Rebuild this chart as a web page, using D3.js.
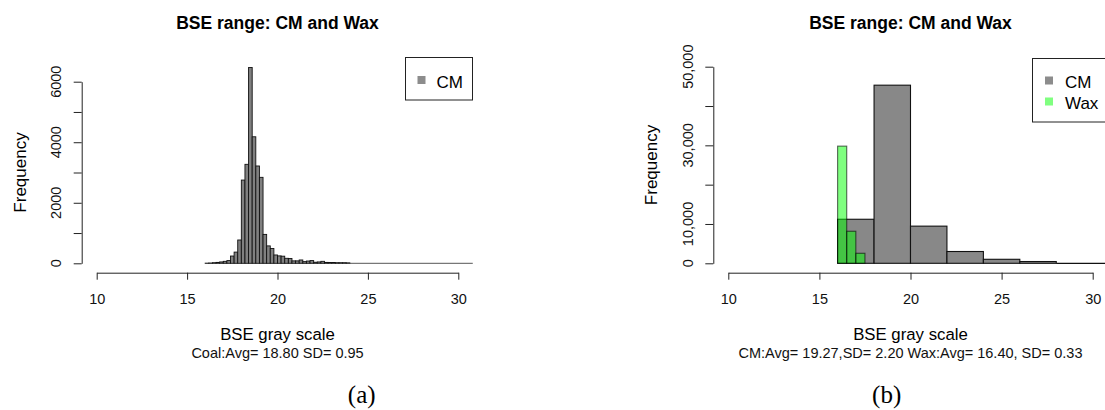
<!DOCTYPE html>
<html><head><meta charset="utf-8">
<script src="https://cdn.jsdelivr.net/npm/d3@7"></script>
<style>
html,body{margin:0;padding:0;background:#fff;}
svg{display:block;font-family:"Liberation Sans",Arial,sans-serif;}
</style></head>
<body>
<svg id="c" width="1105" height="410"></svg>
<script>
// ---------- data ----------
const title = "BSE range: CM and Wax";
const xLabel = "BSE gray scale";
const yLabel = "Frequency";
const xTicks = [10, 15, 20, 25, 30];

// panel (a): CM histogram, bins of 0.2 starting at 16.0
const aBinStart = 16.0;
const aBinWidth = 0.2;
const aCounts = [5, 10, 20, 30, 45, 65, 90, 240, 370, 770,
                 2750, 3270, 6470, 4180, 3215, 2840, 955, 575, 490, 275,
                 245, 235, 165, 160, 80, 80, 110, 55, 75, 90,
                 35, 45, 65, 30, 25, 25, 20, 20, 20, 15];
const aEmptyUntil = 30.8;
const aYTicks = [0, 1000, 2000, 3000, 4000, 5000, 6000];
const aYLabels = [0, 2000, 4000, 6000];
const aSub = "Coal:Avg= 18.80 SD= 0.95";
const aLegend = ["CM"];
const aTag = "(a)";

// panel (b): CM (bins of 2) and Wax (bins of 0.5)
const bCmStart = 16, bCmWidth = 2;
const bCmCounts = [11200, 45300, 9450, 3000, 1020, 450];
const bWaxStart = 16, bWaxWidth = 0.5;
const bWaxCounts = [29800, 8150, 2550];
const bEmptyUntil = 32;
const bYTicks = [0, 10000, 20000, 30000, 40000, 50000];
const bYLabels = [0, 10000, 30000, 50000];
const bSub = "CM:Avg= 19.27,SD= 2.20 Wax:Avg= 16.40, SD= 0.33";
const bLegend = ["CM", "Wax"];
const bTag = "(b)";

// ---------- drawing ----------
const svg = d3.select("#c");
const fmtComma = d3.format(",");

function panel(o) {
  const g = svg.append("g");
  const x = d3.scaleLinear().domain([10, 30]).range(o.xr);
  const y = d3.scaleLinear().domain(o.yd).range(o.yr);
  const cx = (o.xr[0] + o.xr[1]) / 2;

  // title
  g.append("text").attr("x", cx).attr("y", 28.5).attr("text-anchor", "middle")
    .attr("font-weight", "bold").attr("font-size", 17.5).attr("fill", "#000").text(title);

  // x axis (R style)
  const xa = g.append("g").attr("transform", `translate(0,${o.xAxisY})`)
    .call(d3.axisBottom(x).tickValues(xTicks).tickSize(7).tickPadding(14).tickSizeOuter(0));
  xa.select(".domain").attr("stroke", "#222");
  xa.selectAll(".tick line").attr("stroke", "#222");
  xa.selectAll("text").attr("font-size", 14.5).attr("fill", "#111")
    .attr("font-family", "Liberation Sans, Arial, sans-serif");

  // y axis
  const ya = g.append("g").attr("transform", `translate(${o.yAxisX},0)`)
    .call(d3.axisLeft(y).tickValues(o.yTicks).tickSize(8).tickFormat("").tickSizeOuter(0));
  ya.select(".domain").attr("stroke", "#222");
  ya.selectAll(".tick line").attr("stroke", "#222");
  g.selectAll(".ylab").data(o.yLabels).join("text")
    .attr("transform", d => `translate(${o.yLabX},${y(d)}) rotate(-90)`)
    .attr("text-anchor", "middle").attr("font-size", 14.5).attr("fill", "#111")
    .text(d => o.comma ? fmtComma(d) : d);

  // axis titles
  g.append("text").attr("transform", `translate(${o.yTitleX},${(o.yr[0] + o.yr[1]) / 2}) rotate(-90)`)
    .attr("text-anchor", "middle").attr("font-size", 17).attr("fill", "#000").text(yLabel);
  g.append("text").attr("x", cx).attr("y", 340).attr("text-anchor", "middle")
    .attr("font-size", 16.8).attr("fill", "#000").text(xLabel);
  g.append("text").attr("x", cx).attr("y", 357.5).attr("text-anchor", "middle")
    .attr("font-size", 14.5).attr("fill", "#111").text(o.sub);

  // panel tag
  g.append("text").attr("x", o.tagX).attr("y", 403).attr("text-anchor", "middle")
    .attr("font-family", "Liberation Serif, Times New Roman, serif")
    .attr("font-size", 25).attr("fill", "#000").text(o.tag);
  return {g, x, y};
}

// ----- panel (a) -----
{
  const {g, x, y} = panel({
    xr: [96.7, 458.3], yd: [0, 6000], yr: [263.3, 81.7], xAxisY: 272.7,
    yAxisX: 81.7, yTicks: aYTicks, yLabels: aYLabels, yLabX: 61.3, yTitleX: 25.7,
    comma: false, sub: aSub, tag: aTag, tagX: 361.7
  });
  const bins = aCounts.map((c, i) => ({x0: aBinStart + i * aBinWidth, x1: aBinStart + (i + 1) * aBinWidth, c}));
  const last = bins[bins.length - 1].x1;
  g.append("line").attr("x1", x(last)).attr("x2", x(aEmptyUntil))
    .attr("y1", y(0)).attr("y2", y(0)).attr("stroke", "#777").attr("stroke-width", 1.2);
  g.selectAll(".ba").data(bins).join("rect")
    .attr("x", d => x(d.x0)).attr("width", d => x(d.x1) - x(d.x0))
    .attr("y", d => y(d.c)).attr("height", d => y(0) - y(d.c))
    .attr("fill", "#808080").attr("stroke", "#111").attr("stroke-width", 0.9);
  // legend
  const lg = g.append("g");
  lg.append("rect").attr("x", 405.5).attr("y", 57.5).attr("width", 67).attr("height", 42.5)
    .attr("fill", "#fff").attr("stroke", "#222");
  aLegend.forEach((t, i) => {
    lg.append("rect").attr("x", 417.5).attr("y", 76 + i * 21).attr("width", 8).attr("height", 8).attr("fill", "#8c8c8c");
    lg.append("text").attr("x", 436.5).attr("y", 87.5 + i * 21).attr("font-size", 17).attr("fill", "#000").text(t);
  });
}

// ----- panel (b) -----
{
  const {g, x, y} = panel({
    xr: [728.3, 1092.7], yd: [0, 50000], yr: [263.3, 66.7], xAxisY: 272.7,
    yAxisX: 713.3, yTicks: bYTicks, yLabels: bYLabels, yLabX: 693, yTitleX: 657,
    comma: true, sub: bSub, tag: bTag, tagX: 886.7
  });
  const cm = bCmCounts.map((c, i) => ({x0: bCmStart + i * bCmWidth, x1: bCmStart + (i + 1) * bCmWidth, c}));
  const wax = bWaxCounts.map((c, i) => ({x0: bWaxStart + i * bWaxWidth, x1: bWaxStart + (i + 1) * bWaxWidth, c}));
  g.append("line").attr("x1", x(cm[cm.length - 1].x1)).attr("x2", x(bEmptyUntil))
    .attr("y1", y(0)).attr("y2", y(0)).attr("stroke", "#111").attr("stroke-width", 1.2);
  g.selectAll(".bc").data(cm).join("rect")
    .attr("x", d => x(d.x0)).attr("width", d => x(d.x1) - x(d.x0))
    .attr("y", d => y(d.c)).attr("height", d => y(0) - y(d.c))
    .attr("fill", "#888888").attr("stroke", "#111").attr("stroke-width", 1.1);
  g.selectAll(".bw").data(wax).join("rect")
    .attr("x", d => x(d.x0)).attr("width", d => x(d.x1) - x(d.x0))
    .attr("y", d => y(d.c)).attr("height", d => y(0) - y(d.c))
    .attr("fill", "rgba(0,255,0,0.5)").attr("stroke", "rgba(0,0,0,0.6)").attr("stroke-width", 1.1);
  // legend
  const lg = g.append("g");
  lg.append("rect").attr("x", 1032.5).attr("y", 58.5).attr("width", 90).attr("height", 63.5)
    .attr("fill", "#fff").attr("stroke", "#222");
  const sw = ["#8c8c8c", "#80ff80"];
  bLegend.forEach((t, i) => {
    lg.append("rect").attr("x", 1045).attr("y", 76.5 + i * 21).attr("width", 8).attr("height", 8).attr("fill", sw[i]);
    lg.append("text").attr("x", 1065).attr("y", 88 + i * 21).attr("font-size", 17).attr("fill", "#000").text(t);
  });
}
</script>
</body></html>
